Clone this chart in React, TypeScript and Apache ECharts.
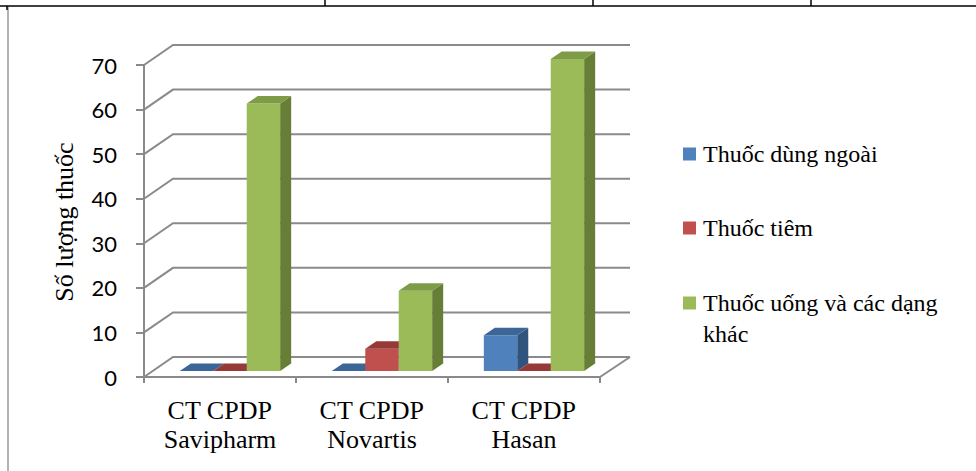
import React, { useEffect, useRef } from "react";
import * as echarts from "echarts";

const categories = ["CT CPDP\nSavipharm", "CT CPDP\nNovartis", "CT CPDP\nHasan"];
const seriesNames = ["Thuốc dùng ngoài", "Thuốc tiêm", "Thuốc uống và các dạng khác"];
const legendLines = [["Thuốc dùng ngoài"], ["Thuốc tiêm"], ["Thuốc uống và các dạng", "khác"]];
const externalValues = [0, 0, 8];
const injectionValues = [0, 5, 0];
const oralValues = [60, 18, 70];
const yTicks = [0, 10, 20, 30, 40, 50, 60, 70];
const yAxisTitle = "Số lượng thuốc";

const FRONT = ["#4F81BD", "#C0504D", "#9BBB59"];
const TOPC = ["#3C6696", "#963A37", "#7E9B48"];
const SIDE = ["#31547F", "#7F302E", "#677E37"];
const WALL_DX = 29;
const WALL_DY = -20;
const BASE_DX = 10;
const BASE_DY = -6;
const TOP_DX = 11;
const TOP_DY = -7.5;
const GRID_COLOR = "#8a8a8a";
const GRID_LEFT = 144;
const GRID_RIGHT = 376;
const GRID_TOP = 65;
const GRID_BOTTOM = 94;
const W = 976;
const H = 471;
const FONT26 = '26px "Liberation Serif"';
const FONT24 = '24px "Liberation Serif"';

function measure(text: string, font: string) {
  const ctx = document.createElement("canvas").getContext("2d");
  if (!ctx) return text.length * 12;
  ctx.font = font;
  return ctx.measureText(text).width;
}

function barRenderer(k: number) {
  return (params: any, api: any) => {
    const cat = api.value(0);
    const val = api.value(1);
    const band = api.size([1, 0])[0];
    const p0 = api.coord([cat, 0]);
    const p1 = api.coord([cat, val]);
    const w = band * 0.22;
    const x = p0[0] + BASE_DX - 1.5 * w + k * w;
    const yb = p0[1] + BASE_DY;
    const yt = p1[1] + BASE_DY;
    const children: any[] = [];
    if (yb - yt > 0.5) {
      children.push({ type: "rect", shape: { x, y: yt, width: w, height: yb - yt }, style: { fill: FRONT[k] } });
      children.push({
        type: "polygon",
        shape: { points: [[x + w, yb], [x + w, yt], [x + w + TOP_DX, yt + TOP_DY], [x + w + TOP_DX, yb + TOP_DY]] },
        style: { fill: SIDE[k] },
      });
    }
    children.push({
      type: "polygon",
      shape: { points: [[x, yt], [x + w, yt], [x + w + TOP_DX, yt + TOP_DY], [x + TOP_DX, yt + TOP_DY]] },
      style: { fill: TOPC[k] },
    });
    return { type: "group", children };
  };
}

function wallRenderer(params: any, api: any) {
  const cs = params.coordSys;
  const v = api.value(1);
  const y = api.coord([0, v])[1];
  const xl = cs.x;
  const xr = cs.x + cs.width;
  const children: any[] = [
    {
      type: "polyline",
      shape: { points: [[xl, y], [xl + WALL_DX, y + WALL_DY], [xr + WALL_DX + 1, y + WALL_DY]] },
      style: { stroke: GRID_COLOR, lineWidth: 2, fill: null },
    },
  ];
  if (v === 0) {
    children.push({
      type: "line",
      shape: { x1: xr, y1: y, x2: xr + WALL_DX + 1, y2: y + WALL_DY },
      style: { stroke: GRID_COLOR, lineWidth: 2 },
    });
  }
  return { type: "group", children };
}

export default function App() {
  const ref = useRef<HTMLDivElement>(null);
  useEffect(() => {
    if (!ref.current) return;
    const chart = echarts.init(ref.current, null, { renderer: "svg" });
    const valueSets = [externalValues, injectionValues, oralValues];
    const legendCenters = [154, 228, 303];

    const plotW = W - GRID_LEFT - GRID_RIGHT;
    const band = plotW / categories.length;
    const baseY = H - GRID_BOTTOM;

    const catTexts: any[] = [];
    categories.forEach((c, i) => {
      const cx = GRID_LEFT + band * (i + 0.5);
      c.split("\n").forEach((line, j) => {
        const w = measure(line, FONT26);
        catTexts.push({
          type: "text",
          x: cx - w / 2,
          y: baseY + 20 + j * 29,
          style: { text: line, font: FONT26, fill: "#000" },
        });
      });
    });

    const legendTexts: any[] = [];
    legendLines.forEach((lines, i) => {
      lines.forEach((line, j) => {
        legendTexts.push({
          type: "text",
          x: 703,
          y: legendCenters[i] - 12 + j * 31,
          style: { text: line, font: FONT24, fill: "#000" },
        });
      });
    });

    const titleW = measure(yAxisTitle, FONT26);
    const titleText = {
      type: "text",
      x: 51,
      y: (GRID_TOP + baseY) / 2 + 1 + titleW / 2,
      rotation: Math.PI / 2,
      style: { text: yAxisTitle, font: FONT26, fill: "#000" },
    };

    const option: any = {
      animation: false,
      backgroundColor: "#ffffff",
      grid: { left: GRID_LEFT, right: GRID_RIGHT, top: GRID_TOP, bottom: GRID_BOTTOM, containLabel: false },
      xAxis: {
        type: "category",
        data: categories,
        axisLine: { show: true, lineStyle: { color: GRID_COLOR, width: 2 } },
        axisTick: { show: true, length: 6, lineStyle: { color: GRID_COLOR, width: 2 } },
        axisLabel: { show: false },
        splitLine: { show: false },
      },
      yAxis: {
        type: "value",
        min: 0,
        max: 70,
        interval: 10,
        axisLine: { show: true, lineStyle: { color: GRID_COLOR, width: 2 } },
        axisTick: { show: true, length: 8, lineStyle: { color: GRID_COLOR, width: 2 } },
        axisLabel: { margin: 27, color: "#000", fontFamily: "Lato", fontSize: 22 },
        splitLine: { show: false },
      },
      legend: seriesNames.map((name, i) => ({
        data: [name],
        left: 683,
        top: legendCenters[i] - 6.5,
        orient: "vertical",
        icon: "rect",
        itemWidth: 13,
        itemHeight: 13,
        padding: 0,
        formatter: () => "",
        textStyle: { fontSize: 1 },
      })),
      graphic: [
        { type: "line", shape: { x1: 0, y1: 6, x2: 976, y2: 6 }, style: { stroke: "#000", lineWidth: 1.5 } },
        { type: "line", shape: { x1: 325, y1: 0, x2: 325, y2: 6 }, style: { stroke: "#000", lineWidth: 1.5 } },
        { type: "line", shape: { x1: 593, y1: 0, x2: 593, y2: 6 }, style: { stroke: "#000", lineWidth: 1.5 } },
        { type: "line", shape: { x1: 811, y1: 0, x2: 811, y2: 6 }, style: { stroke: "#000", lineWidth: 1.5 } },
        { type: "line", shape: { x1: 8, y1: 7, x2: 8, y2: 471 }, style: { stroke: "#9a9a9a", lineWidth: 1.5 } },
        { type: "line", shape: { x1: 7, y1: 6, x2: 7, y2: 10 }, style: { stroke: "#000", lineWidth: 1.5 } },
        ...catTexts,
        ...legendTexts,
        titleText,
      ],
      series: [
        {
          type: "custom",
          name: "wall",
          silent: true,
          renderItem: wallRenderer,
          encode: { x: 0, y: 1 },
          data: yTicks.map((v) => [0, v]),
          z: 1,
        },
        ...seriesNames.map((name, k) => ({
          type: "custom",
          name,
          renderItem: barRenderer(k),
          encode: { x: 0, y: 1 },
          itemStyle: { color: FRONT[k] },
          data: valueSets[k].map((v, i) => [i, v]),
          z: 2 + k,
        })),
      ],
    };
    chart.setOption(option);
    return () => chart.dispose();
  }, []);
  return <div ref={ref} style={{ position: "absolute", left: 0, top: 0, width: W, height: H }} />;
}
